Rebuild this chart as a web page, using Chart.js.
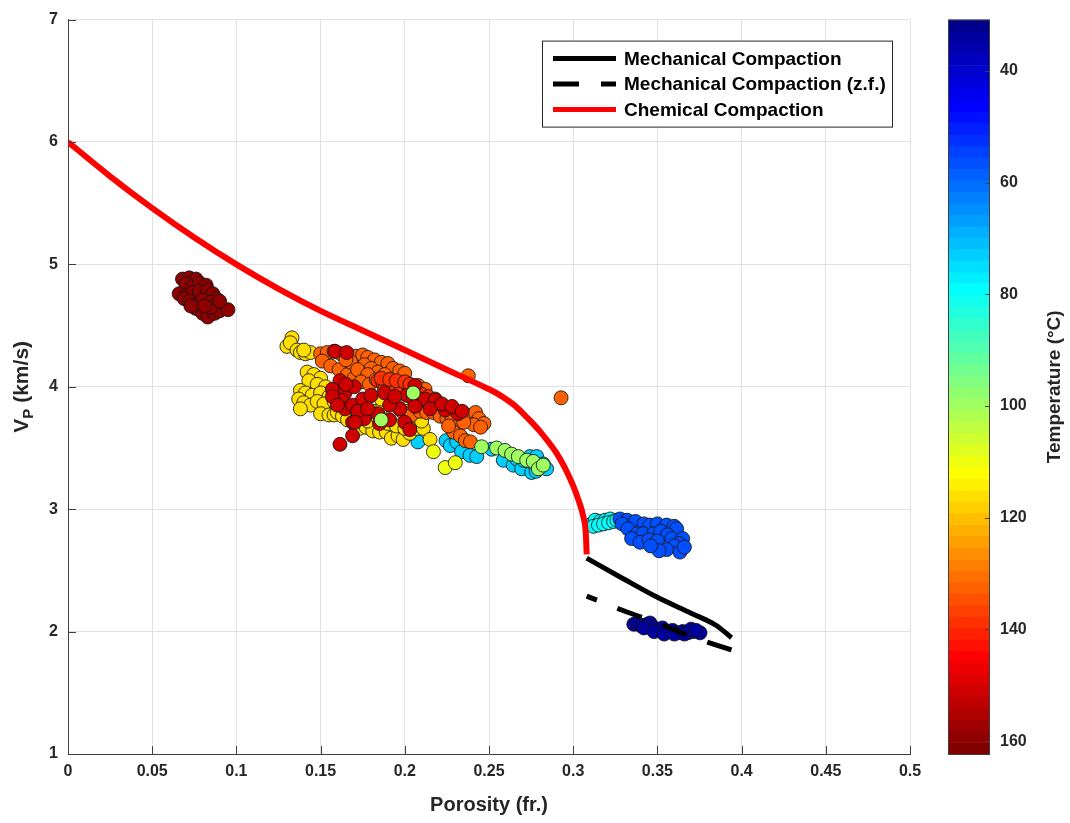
<!DOCTYPE html>
<html>
<head>
<meta charset="utf-8">
<title>Vp vs porosity</title>
<script src="https://cdn.jsdelivr.net/npm/chart.js@4.4.0/dist/chart.umd.min.js"></script>
<style>
  html, body { margin: 0; padding: 0; background: #ffffff; }
  #wrap { position: relative; width: 1070px; height: 823px; }
  #mainBox { position: absolute; left: 0; top: 0; width: 930px; height: 823px; }
  #barBox { position: absolute; left: 930px; top: 0; width: 140px; height: 823px; }
</style>
</head>
<body>
<div id="wrap">
  <div id="mainBox"><canvas id="mainChart"></canvas></div>
  <div id="barBox"><canvas id="barChart"></canvas></div>
</div>
<script>
// compaction trends
const chemPhi = [0, 0.025, 0.05, 0.075, 0.1, 0.125, 0.15, 0.175, 0.2, 0.225, 0.25, 0.255, 0.26, 0.265, 0.27, 0.275, 0.28, 0.285, 0.29, 0.295, 0.2997, 0.303, 0.306, 0.3075, 0.308];
const chemVp  = [6.0, 5.72, 5.46, 5.22, 5.0, 4.8, 4.62, 4.46, 4.3, 4.14, 3.98, 3.945, 3.9, 3.85, 3.785, 3.715, 3.64, 3.555, 3.46, 3.34, 3.2, 3.08, 2.94, 2.8, 2.63];
const mechPhi = [0.308, 0.33, 0.35, 0.37, 0.385, 0.394];
const mechVp  = [2.60, 2.43, 2.28, 2.15, 2.05, 1.95];
const mechZfPhi = [0.308, 0.33, 0.35, 0.37, 0.394];
const mechZfVp  = [2.29, 2.17, 2.07, 1.96, 1.85];

// measured samples [porosity, Vp] grouped by temperature (degC)
const darkRedPts = [[0.068,4.88],[0.072,4.89],[0.076,4.88],[0.070,4.84],[0.074,4.82],[0.078,4.85],[0.082,4.83],[0.066,4.76],[0.070,4.74],[0.074,4.77],[0.078,4.78],[0.083,4.79],[0.086,4.76],[0.088,4.72],[0.069,4.72],[0.072,4.70],[0.077,4.68],[0.080,4.71],[0.085,4.69],[0.089,4.67],[0.076,4.64],[0.080,4.60],[0.083,4.57],[0.087,4.60],[0.090,4.62],[0.095,4.63],[0.085,4.65],[0.081,4.66],[0.090,4.70],[0.073,4.66]];
const darkRedT = 159;
const lightBluePts = [[0.2078,3.55],[0.2245,3.56],[0.227,3.52],[0.2308,3.55],[0.2337,3.47],[0.2387,3.44],[0.2427,3.43],[0.2516,3.49],[0.2585,3.40],[0.2644,3.36],[0.2665,3.41],[0.2694,3.33],[0.2705,3.40],[0.2753,3.30],[0.2743,3.43],[0.276,3.38],[0.278,3.31],[0.2783,3.43],[0.281,3.35],[0.2822,3.37],[0.2842,3.33]];
const lightBlueT = 72;
const yellowPts = [[0.130,4.33],[0.133,4.40],[0.132,4.36],[0.136,4.30],[0.138,4.28],[0.141,4.27],[0.144,4.28],[0.140,4.30],[0.142,4.12],[0.146,4.10],[0.150,4.07],[0.143,4.05],[0.148,4.02],[0.153,4.00],[0.138,3.97],[0.141,3.95],[0.145,3.93],[0.150,3.95],[0.155,3.92],[0.137,3.90],[0.140,3.87],[0.144,3.85],[0.148,3.88],[0.152,3.86],[0.158,3.88],[0.138,3.82],[0.150,3.78],[0.155,3.77],[0.158,3.77],[0.160,3.79],[0.163,3.76],[0.166,3.73],[0.170,3.70],[0.173,3.66],[0.177,3.67],[0.181,3.64],[0.185,3.63],[0.189,3.63],[0.192,3.58],[0.196,3.60],[0.199,3.57],[0.203,3.62],[0.207,3.66],[0.211,3.66],[0.215,3.57],[0.178,3.72],[0.184,3.75],[0.190,3.70],[0.195,3.68],[0.200,3.66],[0.172,3.78],[0.176,3.82],[0.182,3.80],[0.187,3.84],[0.192,3.86],[0.197,3.82],[0.202,3.80],[0.206,3.76],[0.210,3.72],[0.186,3.90],[0.180,3.93]];
const yellowT = 117;
const orangePts = [[0.150,4.27],[0.154,4.28],[0.158,4.29],[0.162,4.27],[0.151,4.21],[0.156,4.17],[0.161,4.14],[0.166,4.10],[0.170,4.07],[0.171,4.25],[0.175,4.26],[0.178,4.24],[0.182,4.22],[0.186,4.20],[0.190,4.19],[0.193,4.15],[0.197,4.13],[0.200,4.11],[0.176,4.18],[0.180,4.15],[0.184,4.12],[0.188,4.10],[0.168,4.20],[0.165,4.22],[0.172,4.14],[0.178,4.10],[0.174,4.04],[0.179,4.02],[0.183,4.06],[0.188,4.05],[0.192,4.04],[0.196,4.03],[0.200,4.02],[0.204,4.00],[0.208,4.01],[0.212,3.98],[0.199,3.79],[0.204,3.77],[0.209,3.80],[0.213,3.79],[0.217,3.79],[0.221,3.76],[0.225,3.74],[0.228,3.74],[0.231,3.68],[0.229,3.63],[0.233,3.60],[0.236,3.56],[0.239,3.55],[0.237,3.77],[0.240,3.73],[0.242,3.79],[0.244,3.74],[0.247,3.70],[0.241,3.69],[0.245,3.67],[0.235,3.71],[0.226,3.68],[0.2377,4.09],[0.2928,3.91]];
const orangeT = 133;
const darkOrangePts = [[0.184,4.05],[0.187,4.03],[0.190,4.02],[0.193,4.00],[0.196,4.01],[0.199,3.99],[0.202,3.98],[0.205,3.96],[0.188,3.98],[0.192,3.96],[0.197,3.95],[0.186,4.07],[0.191,4.06],[0.195,4.05],[0.200,4.04],[0.203,4.02],[0.210,3.94],[0.214,3.92],[0.218,3.90]];
const darkOrangeT = 138;
const redPts = [[0.1586,4.29],[0.1655,4.28],[0.1615,4.05],[0.157,3.98],[0.1645,3.95],[0.1625,3.89],[0.1645,3.82],[0.169,3.85],[0.175,3.90],[0.180,3.93],[0.169,3.71],[0.169,3.60],[0.1615,3.53],[0.176,3.74],[0.185,3.70],[0.191,3.73],[0.188,3.95],[0.201,3.93],[0.200,3.71],[0.203,3.65],[0.205,3.90],[0.209,3.90],[0.212,3.90],[0.218,3.89],[0.224,3.81],[0.2316,3.78],[0.215,3.82],[0.197,3.82],[0.191,3.85],[0.184,3.78],[0.206,4.01],[0.170,4.00],[0.165,4.02],[0.172,3.80],[0.178,3.82],[0.222,3.86],[0.228,3.84],[0.234,3.80],[0.206,3.84],[0.194,3.92],[0.1705,3.71],[0.157,3.92],[0.160,3.85]];
const redT = 151;
const lightGreenPts = [[0.205,3.95],[0.186,3.73],[0.2456,3.51],[0.2545,3.50],[0.2595,3.48],[0.2634,3.45],[0.2674,3.43],[0.2724,3.40],[0.2763,3.39],[0.2793,3.33],[0.2822,3.36]];
const lightGreenT = 100;
const paleYellowPts = [[0.217,3.47],[0.224,3.34],[0.230,3.38]];
const paleYellowT = 110;
const cyanPts = [[0.311,2.88],[0.313,2.91],[0.316,2.90],[0.319,2.91],[0.322,2.92],[0.312,2.86],[0.315,2.87],[0.318,2.88],[0.321,2.89],[0.324,2.90],[0.326,2.91]];
const cyanT = 80;
const bluePts = [[0.3278,2.92],[0.332,2.91],[0.337,2.90],[0.329,2.88],[0.3325,2.84],[0.342,2.88],[0.3456,2.87],[0.350,2.88],[0.3555,2.87],[0.360,2.86],[0.3614,2.84],[0.338,2.80],[0.3416,2.80],[0.3476,2.80],[0.352,2.82],[0.356,2.79],[0.3347,2.76],[0.3397,2.73],[0.345,2.75],[0.350,2.74],[0.3585,2.76],[0.365,2.76],[0.363,2.72],[0.360,2.70],[0.3555,2.67],[0.3634,2.65],[0.351,2.66],[0.346,2.70],[0.366,2.69]];
const blueT = 57;
const navyPts = [[0.336,2.06],[0.338,2.07],[0.340,2.05],[0.344,2.06],[0.3456,2.07],[0.347,2.04],[0.350,2.02],[0.353,2.03],[0.356,2.00],[0.359,2.01],[0.362,1.99],[0.365,2.00],[0.368,1.99],[0.3713,2.00],[0.3753,1.99],[0.342,2.03],[0.348,2.00],[0.354,1.98],[0.360,1.98],[0.366,1.98],[0.370,2.02],[0.373,2.01]];
const navyT = 34;

// colour axis
const tempMin = 30.8;
const tempMax = 162.3;
const tempTicks = [40, 60, 80, 100, 120, 140, 160];

const FONT = "'Liberation Sans', Arial, Helvetica, sans-serif";
const INK = '#262626';
const GRID = '#e2e2e2';

// MATLAB style jet(n)
function jetColors(n) {
    const m = Math.ceil(n / 4);
    const u = [];
    for (let k = 1; k <= m; k++) u.push(k / m);
    for (let k = 1; k < m; k++) u.push(1);
    for (let k = m; k >= 1; k--) u.push(k / m);
    const off = Math.ceil(m / 2) - (n % 4 === 1 ? 1 : 0);
    const val = k => (k >= 1 && k <= u.length) ? u[k - 1] : 0;
    const out = [];
    for (let i = 1; i <= n; i++) {
        const r = val(i - off - m), g = val(i - off), b = val(i - off + m);
        out.push('rgb(' + Math.round(r * 255) + ',' + Math.round(g * 255) + ',' + Math.round(b * 255) + ')');
    }
    return out;
}
const jet = jetColors(64);
function tempColor(t) {
    let i = Math.floor((t - tempMin) / (tempMax - tempMin) * 64);
    return jet[Math.max(0, Math.min(63, i))];
}

const toXY = (xs, ys) => xs.map((x, i) => ({ x: x, y: ys[i] }));

// draw order of the sample groups (later ones on top)
const sampleGroups = [
    [darkRedPts, darkRedT], [lightBluePts, lightBlueT], [yellowPts, yellowT], [orangePts, orangeT],
    [darkOrangePts, darkOrangeT], [redPts, redT], [lightGreenPts, lightGreenT], [paleYellowPts, paleYellowT],
    [cyanPts, cyanT], [bluePts, blueT], [navyPts, navyT]
];
const samplePoints = [];
const sampleColors = [];
sampleGroups.forEach(([pts, t]) => {
    pts.forEach(p => { samplePoints.push({ x: p[0], y: p[1] }); sampleColors.push(tempColor(t)); });
});

// ---- plugins ----
const frameAndTitle = {
    id: 'frameAndTitle',
    afterDraw(chart) {
        const { ctx, chartArea: a, scales } = chart;
        ctx.save();
        // inward ticks on the two axis lines
        ctx.strokeStyle = '#404040';
        ctx.lineWidth = 1;
        ctx.beginPath();
        scales.x.ticks.forEach(t => {
            const px = Math.round(scales.x.getPixelForValue(t.value)) + 0.5;
            ctx.moveTo(px, a.bottom); ctx.lineTo(px, a.bottom - 8);
        });
        scales.y.ticks.forEach(t => {
            const py = Math.round(scales.y.getPixelForValue(t.value)) + 0.5;
            ctx.moveTo(a.left, py); ctx.lineTo(a.left + 8, py);
        });
        ctx.stroke();

        // y title with subscript
        const big = 'bold 21px ' + FONT, small = 'bold 15px ' + FONT;
        ctx.font = big; const wV = ctx.measureText('V').width; const wRest = ctx.measureText(' (km/s)').width;
        ctx.font = small; const wP = ctx.measureText('P').width;
        const total = wV + wP + wRest;
        ctx.translate(28, (a.top + a.bottom) / 2);
        ctx.rotate(-Math.PI / 2);
        ctx.fillStyle = INK;
        ctx.textBaseline = 'alphabetic';
        let x0 = -total / 2;
        ctx.font = big; ctx.fillText('V', x0, 0); x0 += wV;
        ctx.font = small; ctx.fillText('P', x0, 5); x0 += wP;
        ctx.font = big; ctx.fillText(' (km/s)', x0, 0);
        ctx.restore();

        // legend
        const items = chart.data.datasets.filter(d => d.inLegend);
        const bx = a.right - 368, by = a.top + 21, bw = 350, bh = 86;
        ctx.save();
        ctx.fillStyle = '#ffffff';
        ctx.fillRect(bx, by, bw, bh);
        ctx.strokeStyle = INK;
        ctx.lineWidth = 1;
        ctx.strokeRect(bx + 0.5, by + 0.5, bw, bh);
        items.forEach((d, i) => {
            const y = by + 18 + i * 25.5;
            ctx.strokeStyle = d.borderColor;
            ctx.lineWidth = 5;
            ctx.lineCap = 'butt';
            ctx.setLineDash(d.borderDash || []);
            ctx.beginPath(); ctx.moveTo(bx + 11, y); ctx.lineTo(bx + 74, y); ctx.stroke();
            ctx.setLineDash([]);
            ctx.fillStyle = '#000000';
            ctx.font = 'bold 19px ' + FONT;
            ctx.textBaseline = 'middle';
            ctx.fillText(d.label, bx + 82, y + 1);
        });
        ctx.restore();
    }
};

const tickFont = { family: FONT, size: 16, weight: 'bold' };

const mainChart = new Chart(document.getElementById('mainChart'), {
    type: 'scatter',
    data: {
        datasets: [
            {
                label: 'Mechanical Compaction', inLegend: true, type: 'line',
                data: toXY(mechPhi, mechVp), borderColor: '#000000', borderWidth: 5,
                pointRadius: 0, fill: false, cubicInterpolationMode: 'monotone', order: 0
            },
            {
                label: 'Mechanical Compaction (z.f.)', inLegend: true, type: 'line',
                data: toXY(mechZfPhi, mechZfVp), borderColor: '#000000', borderWidth: 5,
                borderDash: [26, 22], borderDashOffset: 15,
                pointRadius: 0, fill: false, cubicInterpolationMode: 'monotone', order: 0
            },
            {
                label: 'Chemical Compaction', inLegend: true, type: 'line',
                data: toXY(chemPhi, chemVp), borderColor: '#ff0000', borderWidth: 6,
                pointRadius: 0, fill: false, cubicInterpolationMode: 'monotone', order: 0
            },
            {
                label: 'Samples', type: 'scatter',
                data: samplePoints, backgroundColor: sampleColors,
                borderColor: 'rgba(20,20,20,0.85)', borderWidth: 1,
                pointRadius: 7, pointHoverRadius: 7, order: 1
            }
        ]
    },
    options: {
        responsive: true,
        maintainAspectRatio: false,
        animation: false,
        layout: { padding: { top: 14, right: 20, left: 0, bottom: 0 } },
        plugins: { legend: { display: false }, tooltip: { enabled: false } },
        scales: {
            x: {
                type: 'linear', min: 0, max: 0.5,
                ticks: { stepSize: 0.05, color: INK, font: tickFont, padding: 8,
                    callback: v => String(parseFloat(v.toFixed(2))) },
                grid: { color: GRID, drawTicks: false },
                border: { color: '#404040' },
                title: { display: true, text: 'Porosity (fr.)', color: INK,
                    font: { family: FONT, size: 20, weight: 'bold' }, padding: { top: 0, bottom: 6 } },
                afterFit: s => { s.height = 69; }
            },
            y: {
                type: 'linear', min: 1, max: 7,
                ticks: { stepSize: 1, color: INK, font: tickFont, padding: 10 },
                grid: { color: GRID, drawTicks: false },
                border: { color: '#404040' },
                afterFit: s => { s.width = 68; }
            }
        }
    },
    plugins: [frameAndTitle]
});

// ---- colour bar ----
const barTitle = {
    id: 'barTitle',
    afterDraw(chart) {
        const { ctx, chartArea: a, scales } = chart;
        ctx.save();
        ctx.strokeStyle = '#404040';
        ctx.lineWidth = 1;
        ctx.strokeRect(a.left + 0.5, a.top + 0.5, a.right - a.left - 1, a.bottom - a.top);
        ctx.beginPath();
        scales.y.ticks.forEach(t => {
            const py = Math.round(scales.y.getPixelForValue(t.value)) + 0.5;
            ctx.moveTo(a.right, py); ctx.lineTo(a.right - 5, py);
        });
        ctx.stroke();
        ctx.translate(130, (a.top + a.bottom) / 2);
        ctx.rotate(-Math.PI / 2);
        ctx.fillStyle = INK;
        ctx.font = 'bold 19px ' + FONT;
        ctx.textAlign = 'center';
        ctx.textBaseline = 'alphabetic';
        ctx.fillText('Temperature (°C)', 0, 0);
        ctx.restore();
    }
};

const bandStep = (tempMax - tempMin) / 64;
const barChart = new Chart(document.getElementById('barChart'), {
    type: 'bar',
    data: {
        labels: ['T'],
        datasets: jet.map((c, i) => ({
            data: [[tempMin + i * bandStep, tempMin + (i + 1) * bandStep]],
            backgroundColor: c, borderWidth: 0, grouped: false,
            barPercentage: 1, categoryPercentage: 1
        }))
    },
    options: {
        responsive: true,
        maintainAspectRatio: false,
        animation: false,
        layout: { padding: { top: 14, bottom: 69, left: 18, right: 0 } },
        plugins: { legend: { display: false }, tooltip: { enabled: false } },
        scales: {
            x: { display: false },
            y: {
                type: 'linear', position: 'right', reverse: true, min: tempMin, max: tempMax,
                afterBuildTicks: s => { s.ticks = tempTicks.map(v => ({ value: v })); },
                ticks: { color: INK, font: tickFont, padding: 10 },
                grid: { display: false, drawTicks: false },
                border: { display: false },
                afterFit: s => { s.width = 80; }
            }
        }
    },
    plugins: [barTitle]
});
</script>
</body>
</html>
